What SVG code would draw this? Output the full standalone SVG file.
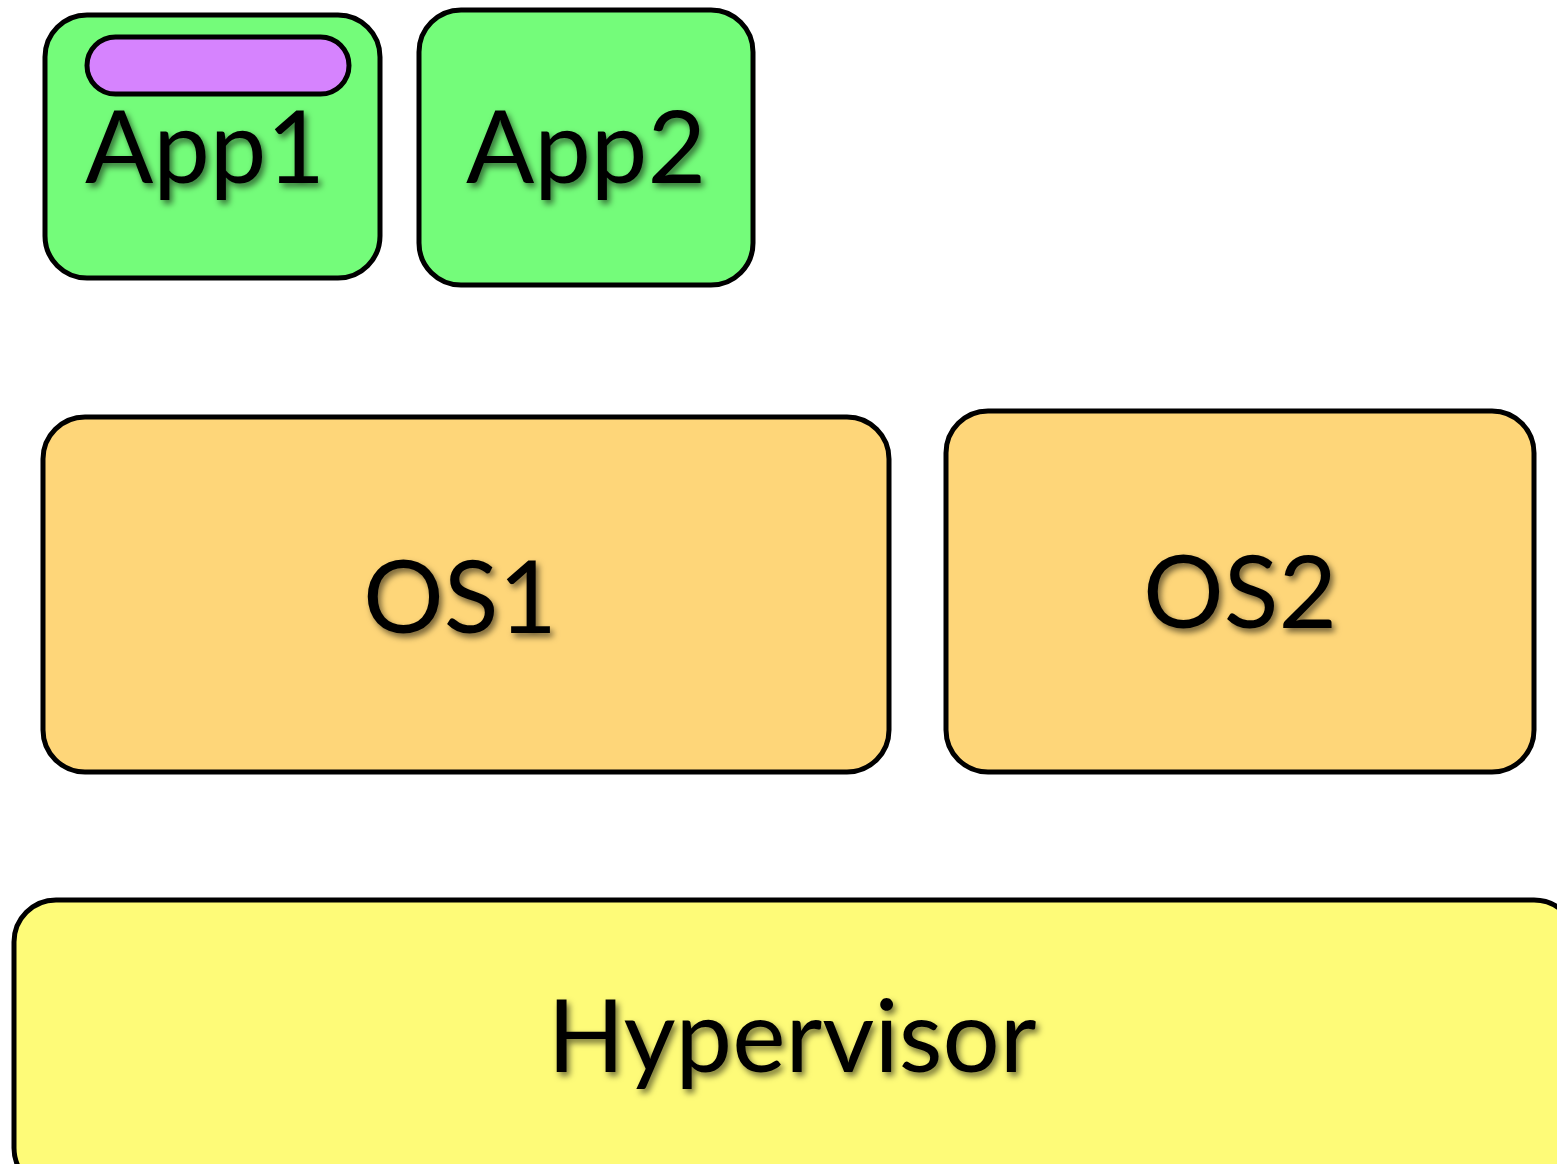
<svg xmlns="http://www.w3.org/2000/svg" width="1557" height="1164" viewBox="0 0 1557 1164">
  <style>
    .box { stroke: #000; stroke-width: 5; }
    .app { fill: #74fc7a; }
    .os { fill: #fed679; }
    .hv { fill: #fefb78; }
    .pill { fill: #d683fe; stroke: #000; stroke-width: 5; }
    .label { font-family: Lato, "Liberation Sans", sans-serif; font-size: 101px; fill: #000; text-anchor: middle; filter: url(#shadow); }
  </style>
  <defs>
    <filter id="shadow" x="-10%" y="-20%" width="130%" height="150%">
      <feDropShadow dx="3" dy="4" stdDeviation="3" flood-color="#000" flood-opacity="0.55"/>
    </filter>
  </defs>
  <rect width="1557" height="1164" fill="#fff"/>

  <g id="connectors"/>

  <g id="app1">
    <rect class="box app" x="45" y="15" width="335" height="263" rx="42"/>
    <rect class="pill" x="87" y="37" width="262" height="57" rx="28.5"/>
    <text class="label" x="205" y="183">App1</text>
  </g>

  <g id="app2">
    <rect class="box app" x="419" y="10" width="334" height="275" rx="42"/>
    <text class="label" x="586" y="183">App2</text>
  </g>

  <g id="os1">
    <rect class="box os" x="43" y="417" width="846" height="355" rx="42"/>
    <text class="label" x="460" y="633">OS1</text>
  </g>

  <g id="os2">
    <rect class="box os" x="946" y="411" width="588" height="361" rx="42"/>
    <text class="label" x="1240" y="628">OS2</text>
  </g>

  <g id="hypervisor">
    <rect class="box hv" x="14" y="900" width="1562" height="290" rx="42"/>
    <text class="label" x="792" y="1072">Hypervisor</text>
  </g>
</svg>
